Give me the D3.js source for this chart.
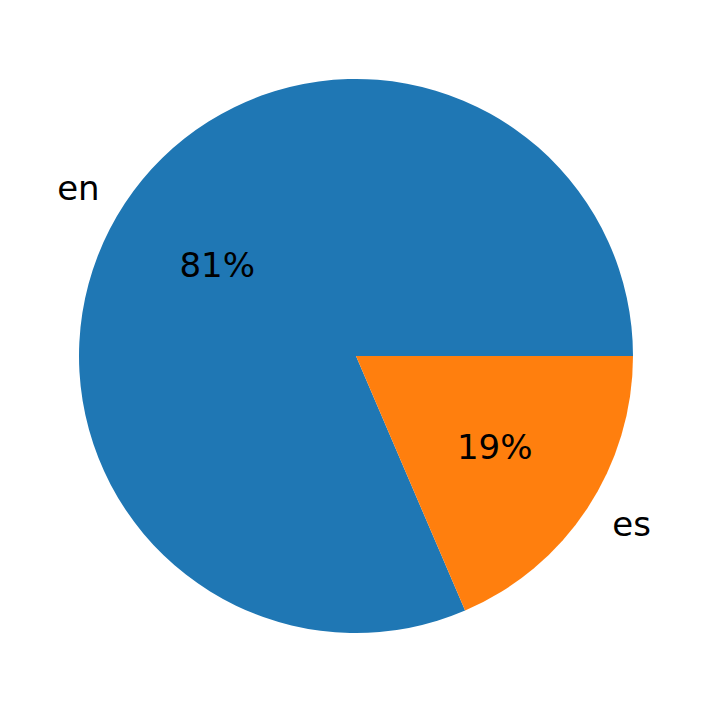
<!DOCTYPE html>
<html>
<head>
<meta charset="utf-8">
<script src="https://cdn.jsdelivr.net/npm/d3@7"></script>
<style>
  body { margin: 0; background: #fff; }
  text { font-family: "DejaVu Sans", sans-serif; }
</style>
</head>
<body>
<script>
// data
var labels = ['en', 'es'];
var counts = [79, 18];
var colors = ['#1f77b4', '#ff7f0e'];

var width = 712, height = 713,
    cx = 356, cy = 356, r = 277,
    fontSize = 34;

var svg = d3.select('body').append('svg')
  .attr('width', width)
  .attr('height', height);

var g = svg.append('g').attr('transform', 'translate(' + cx + ',' + cy + ')');

var total = d3.sum(counts);
var data = labels.map(function(l, i){ return {label: l, value: counts[i], color: colors[i]}; });

// matplotlib style: start at 3 o'clock, go counterclockwise
var pie = d3.pie().sort(null).value(function(d){ return d.value; })
  .startAngle(Math.PI / 2).endAngle(Math.PI / 2 - 2 * Math.PI);

var arc = d3.arc().innerRadius(0).outerRadius(r);
var arcs = pie(data);

g.selectAll('path').data(arcs).enter().append('path')
  .attr('d', arc)
  .attr('fill', function(d){ return d.data.color; });

function mid(d){ return (d.startAngle + d.endAngle) / 2; }

// labels outside at 1.1 r
g.selectAll('text.lbl').data(arcs).enter().append('text')
  .attr('class', 'lbl')
  .attr('x', function(d){ return Math.sin(mid(d)) * r * 1.1 + (Math.sin(mid(d)) < 0 ? -2 : 2); })
  .attr('y', function(d){ return -Math.cos(mid(d)) * r * 1.1; })
  .attr('text-anchor', function(d){ return Math.sin(mid(d)) < 0 ? 'end' : 'start'; })
  .attr('dominant-baseline', 'central')
  .attr('font-size', fontSize)
  .text(function(d){ return d.data.label; });

// percentages at 0.6 r
g.selectAll('text.pct').data(arcs).enter().append('text')
  .attr('class', 'pct')
  .attr('x', function(d){ return Math.sin(mid(d)) * r * 0.6; })
  .attr('y', function(d){ return -Math.cos(mid(d)) * r * 0.6; })
  .attr('text-anchor', 'middle')
  .attr('dominant-baseline', 'central')
  .attr('font-size', fontSize)
  .text(function(d){ return Math.round(d.value / total * 100) + '%'; });
</script>
</body>
</html>
